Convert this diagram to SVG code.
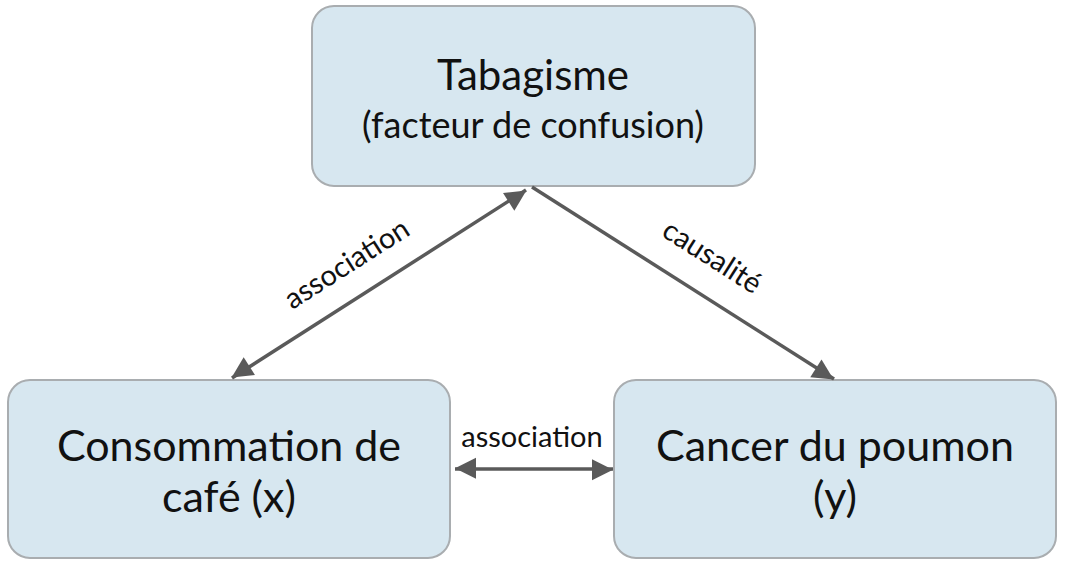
<svg xmlns="http://www.w3.org/2000/svg" width="1066" height="563" viewBox="0 0 1066 563">
<style>
.box{fill:#d7e7f0;stroke:#a9adb0;stroke-width:2}
.t{font-family:Lato,"Liberation Sans",sans-serif;fill:#111;text-anchor:middle}
.ln{stroke:#5a5a5a;stroke-width:3.5;fill:none}
</style>
<defs>
<marker id="a" viewBox="0 0 10 10" refX="9" refY="5" markerWidth="7" markerHeight="7" markerUnits="userSpaceOnUse" orient="auto-start-reverse" style="overflow:visible">
<path d="M0,0 L10,5 L0,10 z" fill="#5a5a5a" transform="scale(3) translate(-7,-3)"/>
</marker>
</defs>
<rect width="1066" height="563" fill="#fff"/>
<g id="tabagisme"><rect class="box" x="312" y="6" width="443" height="180" rx="22"/>
<text class="t" x="533" y="90" font-size="42">Tabagisme</text>
<text class="t" x="533" y="138" font-size="36">(facteur de confusion)</text></g>
<g id="cafe"><rect class="box" x="8" y="380" width="442" height="178" rx="22"/>
<text class="t" x="229" y="461" font-size="43">Consommation de</text>
<text class="t" x="229" y="512" font-size="43">café (x)</text></g>
<g id="cancer"><rect class="box" x="614" y="380" width="442" height="178" rx="22"/>
<text class="t" x="835" y="461" font-size="43">Cancer du poumon</text>
<text class="t" x="835" y="512" font-size="43">(y)</text></g>
<g id="connectors">
<line class="ln" x1="526" y1="190" x2="232" y2="378" marker-start="url(#a)" marker-end="url(#a)"/>
<line class="ln" x1="532" y1="187" x2="834" y2="379" marker-end="url(#a)"/>
<line class="ln" x1="455" y1="469" x2="613" y2="469" marker-start="url(#a)" marker-end="url(#a)"/>
<text class="t" font-size="29" transform="translate(352,272) rotate(-32.5)">association</text>
<text class="t" font-size="29" transform="translate(707,265) rotate(32.5)">causalité</text>
<text class="t" font-size="29" x="532" y="447">association</text>
</g>
</svg>
